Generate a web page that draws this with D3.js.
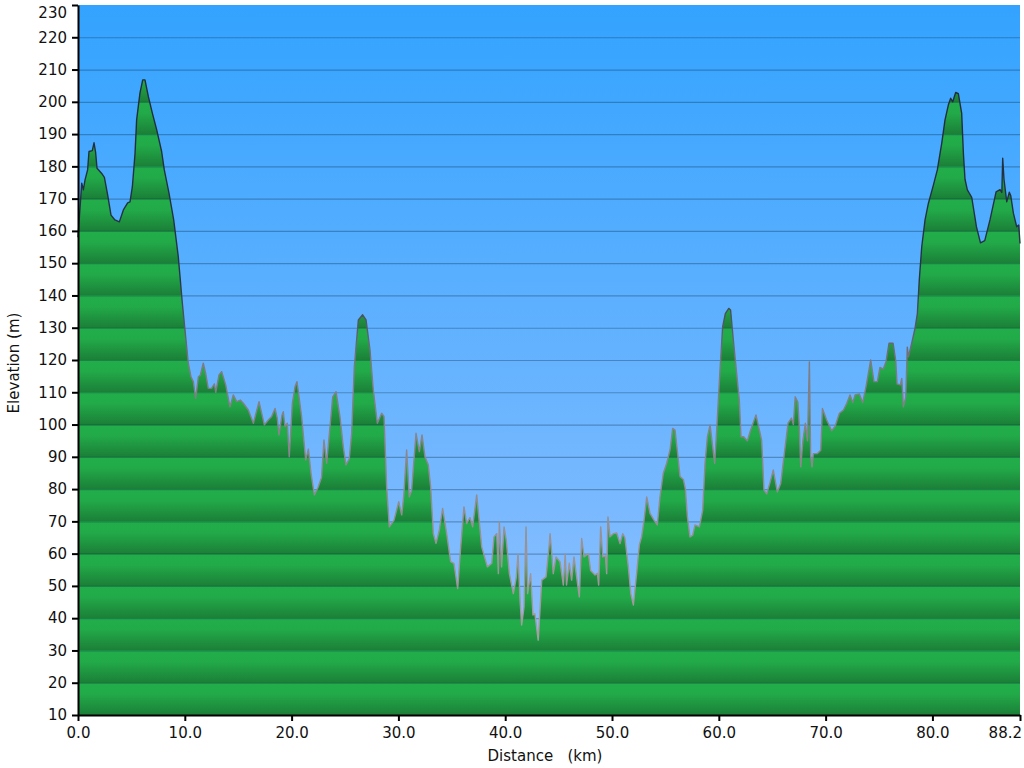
<!DOCTYPE html>
<html><head><meta charset="utf-8">
<script src="https://cdn.jsdelivr.net/npm/d3@7"></script>
<style>
html,body{margin:0;padding:0;background:#fff;}
svg text{font-family:"DejaVu Sans",Verdana,sans-serif;}
</style></head>
<body>
<svg id="chart" width="1024" height="768"></svg>
<script>
const distKm = [0,0.35,0.5,0.66,0.9,1.03,1.34,1.5,1.65,1.78,2.22,2.47,2.78,3.09,3.46,3.87,4.25,4.65,4.87,5.09,5.34,5.49,5.8,6.06,6.27,6.59,6.96,7.37,7.83,8.08,8.52,8.96,9.39,9.77,10.08,10.33,10.58,10.8,11.02,11.27,11.45,11.73,11.95,12.2,12.5,12.77,12.9,13.2,13.45,13.83,14.23,14.54,14.86,15.2,15.48,15.95,16.42,16.95,17.45,17.82,18.13,18.45,18.66,18.82,19.1,19.22,19.38,19.6,19.78,20.07,20.32,20.5,20.67,20.94,21.32,21.57,21.82,22.13,22.47,22.8,23.03,23.28,23.85,24.16,24.53,24.84,25.09,25.4,25.62,25.87,26.25,26.65,26.97,27.34,27.65,28.03,28.43,28.65,28.9,29.15,29.59,30.03,30.31,30.5,30.77,31.02,31.23,31.65,31.96,32.21,32.49,32.8,33.02,33.27,33.52,33.83,34.14,34.52,34.89,35.2,35.55,35.83,36.14,36.39,36.7,36.95,37.33,37.8,38.33,38.74,38.95,39.2,39.36,39.45,39.66,39.89,40.1,40.39,40.76,41.03,41.2,41.39,41.54,41.76,41.95,42.1,42.38,42.6,42.78,43.09,43.42,43.82,44.13,44.2,44.36,44.5,44.76,45.13,45.44,45.62,45.74,46.0,46.22,46.44,46.69,46.94,47.16,47.38,47.79,48.0,48.41,48.63,48.75,48.94,49.13,49.38,49.5,49.62,49.81,50.12,50.44,50.75,51.0,51.2,51.53,51.76,52.0,52.3,52.56,52.77,53.0,53.25,53.56,53.93,54.24,54.49,54.8,55.12,55.43,55.68,55.9,56.11,56.37,56.68,56.87,57.06,57.3,57.55,57.77,58.18,58.49,58.71,58.93,59.18,59.43,59.61,59.8,60.11,60.36,60.61,60.93,61.1,61.36,61.67,61.92,62.08,62.33,62.67,62.98,63.48,63.8,64.01,64.23,64.48,64.79,65.1,65.48,65.79,66.15,66.48,66.8,66.98,67.15,67.4,67.54,67.67,67.86,68.1,68.3,68.48,68.6,68.73,68.85,69.23,69.54,69.7,70.1,70.57,70.88,71.29,71.67,71.98,72.29,72.54,72.76,73.16,73.47,73.78,74.22,74.53,74.84,75.09,75.4,75.65,75.94,76.31,76.56,76.69,77.0,77.13,77.28,77.5,77.65,77.75,78.06,78.37,78.59,78.77,79.0,79.31,79.62,80.09,80.46,80.87,81.18,81.49,81.71,81.9,82.18,82.43,82.74,82.9,83.05,83.27,83.68,84.12,84.5,84.9,85.39,85.96,86.33,86.5,86.58,86.7,86.96,87.2,87.33,87.58,87.89,88.08,88.2];
const elevM = [158,174.8,172.7,175.8,178.9,184.6,184.9,187.3,184.3,179.4,177.8,176.6,171.1,164.9,163.4,162.8,166.5,168.7,169,173.7,184,194.4,202.7,206.8,206.8,201.6,196.5,191.3,184.6,178.9,171.7,163.4,152,137.6,127.2,119,114.8,113.3,108.1,114.8,115.3,119,115.9,111.2,111.2,112.6,110,115.4,116.4,112.3,105.5,109.2,107.1,107.6,106.6,104.5,100.4,107.1,99.9,101.4,102.5,105,101.9,96.8,102.9,104,99.4,100.4,90,106.6,111.7,113.3,109.2,102.4,89,92.4,84.9,78.2,80.5,83.6,95.2,88,108.6,110.2,102.4,93.1,87.5,89.4,97.3,117.9,132.4,134,132.4,123.1,110.7,100.4,103.5,102.5,80.7,68.3,70.4,76.1,72,78,92.1,77.6,79.5,97.3,91.6,96.8,90,87.5,80.7,66.2,63.2,67.3,74,66.2,57.5,57,49.2,62.1,74.5,69.3,71.2,68.3,78.2,62.1,55.9,57,65.2,66.2,53.8,69.9,55.9,68.3,64.2,53.8,47.6,52.6,59.9,45.6,37.9,43.5,68.3,47.6,53.8,41,41.4,33.2,51.8,52.8,63.1,66.2,59.9,53.8,59,57.5,50.3,59.9,50.3,57,51.8,59,52.8,46.6,64.7,59,60,54.8,53.4,53.9,50.3,68.3,59,59.3,53.8,71.4,65.2,66.2,66.4,63.1,66.2,65,55.9,47.6,44.1,53.8,62.7,65.2,70.4,77.6,72.5,70.4,68.9,77.6,84.9,88,92.1,98.8,98.3,92.1,83.9,83,80,71.4,65.2,65.7,68.9,68.3,73.5,88,96.2,99.9,93.1,88,98.3,116.9,130.3,134.4,136,135.5,126.2,115.9,107.6,96.2,96.2,95,98.3,103,98.3,95.2,79.7,78.5,82,85.9,79.1,81.7,91.5,100.4,102,100,108.6,107,99.3,86.9,94.7,100.4,95,119.4,90.4,86.9,91,91,92,105,101.4,98.1,99.4,103.5,104.5,106.6,109.2,106.8,109.2,109.5,106.8,111.7,120,113.3,113.3,117.7,117.2,119.4,125.2,125.2,120,112.6,112.3,114.3,105.5,108.5,124,121,125.2,129.8,134.4,144.8,155.1,163.4,168.5,174.2,178.9,187.1,194.4,199,201.1,200,202.9,202.5,196.4,184,176,172.7,170.4,161.3,156.3,157,163.4,172.1,172.8,171.9,182.5,176,169,172,171,165.5,161.3,161.8,156.1];
const xTickValues = [0,10,20,30,40,50,60,70,80,88.2];
const yTickValues = d3.range(10, 231, 10);
const xTitle = "Distance   (km)";
const yTitle = "Elevation (m)";

const svg = d3.select("#chart");
const pLeft = 78, pRight = 1020, pTop = 5, pBottom = 715;
const x = d3.scaleLinear().domain([0, 88.2]).range([pLeft, pRight]);
const y = d3.scaleLinear().domain([10, 230]).range([pBottom, pTop]);

const defs = svg.append("defs");
const sky = defs.append("linearGradient").attr("id","sky")
  .attr("gradientUnits","userSpaceOnUse").attr("x1",0).attr("x2",0).attr("y1",pTop).attr("y2",pBottom);
sky.append("stop").attr("offset",0).attr("stop-color","#33a3ff");
sky.append("stop").attr("offset",1).attr("stop-color","#96c2ff");

const band = defs.append("linearGradient").attr("id","band")
  .attr("gradientUnits","userSpaceOnUse").attr("spreadMethod","repeat")
  .attr("x1",0).attr("x2",0).attr("y1",y(20)).attr("y2",y(10));
band.append("stop").attr("offset",0).attr("stop-color","#22ad4a");
band.append("stop").attr("offset",0.35).attr("stop-color","#22aa49");
band.append("stop").attr("offset",1).attr("stop-color","#1b7f37");

const strokeG = defs.append("linearGradient").attr("id","strokeG")
  .attr("gradientUnits","userSpaceOnUse").attr("x1",0).attr("x2",0).attr("y1",y(230)).attr("y2",y(10));
strokeG.append("stop").attr("offset",0).attr("stop-color","#1c2a38");
strokeG.append("stop").attr("offset",(y(145)-y(230))/(y(10)-y(230))).attr("stop-color","#263545");
strokeG.append("stop").attr("offset",(y(118)-y(230))/(y(10)-y(230))).attr("stop-color","#7c7c84");
strokeG.append("stop").attr("offset",1).attr("stop-color","#b0a8a8");

svg.append("rect").attr("x",pLeft).attr("y",pTop).attr("width",pRight-pLeft).attr("height",pBottom-pTop).attr("fill","url(#sky)");

const data = distKm.map((d,i)=>({d, e: elevM[i]}));
const area = d3.area().x(p=>x(p.d)).y0(y(10)).y1(p=>y(p.e));
const line = d3.line().x(p=>x(p.d)).y(p=>y(p.e));

svg.append("path").datum(data).attr("d",area).attr("fill","url(#band)");

svg.append("g").selectAll("line").data(yTickValues.filter(v=>v>10 && v<230)).join("line")
  .attr("x1",pLeft).attr("x2",pRight).attr("y1",d=>y(d)+0.5).attr("y2",d=>y(d)+0.5)
  .attr("stroke","#0a2440").attr("stroke-opacity",0.32).attr("stroke-width",1.2);

svg.append("path").datum(data).attr("d",line).attr("fill","none")
  .attr("stroke","url(#strokeG)").attr("stroke-width",1.4).attr("stroke-linejoin","round");

const yAxis = d3.axisLeft(y).tickValues(yTickValues).tickFormat(d3.format("d")).tickSize(6).tickPadding(5).tickSizeOuter(0);
const gy = svg.append("g").attr("transform",`translate(${pLeft},0)`).call(yAxis);
const xAxis = d3.axisBottom(x).tickValues(xTickValues).tickFormat(d3.format(".1f")).tickSize(6).tickPadding(6).tickSizeOuter(0);
const gx = svg.append("g").attr("transform",`translate(0,${pBottom})`).call(xAxis);
[gx,gy].forEach(g=>{
  g.selectAll("text").attr("font-size",15).attr("fill","#111").attr("font-family","DejaVu Sans, Verdana, sans-serif");
  g.selectAll("line").attr("stroke","#000").attr("stroke-width",2);
  g.select(".domain").attr("stroke","#000").attr("stroke-width",2);
});
// keep end labels inside the canvas
gy.selectAll(".tick").filter(d=>d===230).select("text").attr("dy","0.85em");
gx.selectAll(".tick").filter(d=>d===88.2).select("text").attr("text-anchor","end").attr("dx","0.1em");

svg.append("text").attr("x",545).attr("y",761).attr("text-anchor","middle")
  .attr("font-size",15).attr("fill","#111").style("white-space","pre").text(xTitle);
svg.append("text").attr("transform","translate(19,363) rotate(-90)").attr("text-anchor","middle")
  .attr("font-size",15).attr("fill","#111").text(yTitle);
</script>
</body></html>
